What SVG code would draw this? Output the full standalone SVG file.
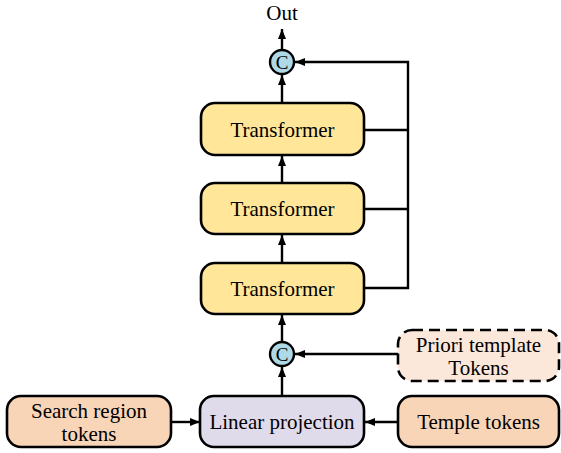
<svg xmlns="http://www.w3.org/2000/svg" width="561" height="453" viewBox="0 0 561 453">
<defs>
<marker id="ah" markerWidth="10" markerHeight="8" refX="10" refY="4" orient="auto" markerUnits="userSpaceOnUse">
<path d="M0,0 L10,4 L0,8 z" fill="#000"/>
</marker>
<style>
.box{stroke:#000;stroke-width:2.6}
.tr{fill:#FFE699}
.lp{fill:#E0DBEB}
.tk{fill:#F9D5B8}
.pr{fill:#FCE8DA;stroke-dasharray:11 6}
.cc{fill:#ADDAE6;stroke:#000;stroke-width:2.4}
text{font-family:"Liberation Serif","Times New Roman",serif;font-size:21px;fill:#000;text-anchor:middle}
.ct{font-size:19px}
.ln{fill:none;stroke:#000;stroke-width:2.4}
</style>
</defs>
<rect width="561" height="453" fill="#fff"/>
<g id="connectors">
<line class="ln" x1="282" y1="50" x2="282" y2="29" marker-end="url(#ah)"/>
<line class="ln" x1="282" y1="103" x2="282" y2="75" marker-end="url(#ah)"/>
<line class="ln" x1="282" y1="183" x2="282" y2="156" marker-end="url(#ah)"/>
<line class="ln" x1="282" y1="263" x2="282" y2="235" marker-end="url(#ah)"/>
<line class="ln" x1="282" y1="342" x2="282" y2="315" marker-end="url(#ah)"/>
<line class="ln" x1="282" y1="396" x2="282" y2="367" marker-end="url(#ah)"/>
<polyline class="ln" points="364,288 408,288 408,62 295,62" marker-end="url(#ah)"/>
<line class="ln" x1="364" y1="130" x2="408" y2="130"/>
<line class="ln" x1="364" y1="209" x2="408" y2="209"/>
<line class="ln" x1="398" y1="354" x2="295" y2="354" marker-end="url(#ah)"/>
<line class="ln" x1="171" y1="422" x2="200" y2="422" marker-end="url(#ah)"/>
<line class="ln" x1="398" y1="422" x2="365" y2="422" marker-end="url(#ah)"/>
</g>
<g id="out"><text x="282" y="20">Out</text></g>
<g id="concat-top"><circle class="cc" cx="282" cy="62" r="12"/><text class="ct" x="282" y="68.5">C</text></g>
<g id="transformer-1"><rect class="box tr" x="201" y="103" width="163" height="52" rx="14"/><text x="282.5" y="136.5">Transformer</text></g>
<g id="transformer-2"><rect class="box tr" x="201" y="183" width="163" height="51" rx="14"/><text x="282.5" y="215.5">Transformer</text></g>
<g id="transformer-3"><rect class="box tr" x="201" y="263" width="163" height="51" rx="14"/><text x="282.5" y="295.5">Transformer</text></g>
<g id="concat-bottom"><circle class="cc" cx="282" cy="354" r="12"/><text class="ct" x="282" y="360.5">C</text></g>
<g id="priori"><rect class="box pr" x="398" y="330" width="161" height="51" rx="14"/><text x="478.5" y="352">Priori template</text><text x="478.5" y="375">Tokens</text></g>
<g id="search"><rect class="box tk" x="7" y="396" width="164" height="51" rx="14"/><text x="89" y="418">Search region</text><text x="89" y="441">tokens</text></g>
<g id="linear"><rect class="box lp" x="200" y="396" width="164" height="51" rx="14"/><text x="282" y="428.5">Linear projection</text></g>
<g id="temple"><rect class="box tk" x="398" y="396" width="161" height="51" rx="14"/><text x="478.5" y="428.5">Temple tokens</text></g>
</svg>
